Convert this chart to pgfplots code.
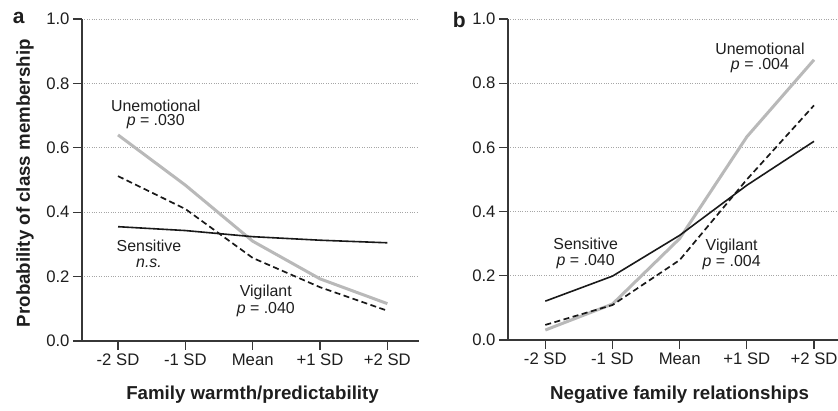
\documentclass[border=0pt]{standalone}
\usepackage{fontspec}
\setmainfont{Liberation Sans}
\usepackage{pgfplots}
\pgfplotsset{compat=1.18}
\definecolor{unemocol}{RGB}{185,185,185}
\definecolor{axc}{RGB}{55,55,55}
\definecolor{txt}{RGB}{30,30,30}
\tikzset{
  ann/.style={font=\fontsize{15.9bp}{18bp}\selectfont, text=txt, anchor=center},
  plab/.style={font=\bfseries\fontsize{21bp}{23bp}\selectfont, text=txt, anchor=center},
}
\pgfplotsset{
  panel/.style={
    scale only axis,
    ymin=0, ymax=1,
    axis x line*=bottom, axis y line*=left,
    axis line style={-, color=axc, line width=1.4bp},
    tick style={color=axc, line width=1.3bp},
    tick align=outside,
    major tick length=9bp,
    xtick={0,1,2,3,4},
    xticklabels={-2 SD,-1 SD,Mean,+1 SD,+2 SD},
    ytick={0,0.2,0.4,0.6,0.8,1.0},
    yticklabels={0.0,0.2,0.4,0.6,0.8,1.0},
    ymajorgrids,
    grid style={dotted, color=gray!70, line width=0.9bp},
    ticklabel style={font=\fontsize{16.7bp}{19bp}\selectfont, text=txt},
    clip=false,
  },
  unemoline/.style={color=unemocol, line width=3bp},
  sensline/.style={color=black!90, line width=1.6bp},
  vigline/.style={color=black!90, line width=1.7bp, dash pattern=on 6bp off 3.5bp},
}
\begin{document}
\begin{tikzpicture}
\useasboundingbox (0,0) rectangle (838bp,411bp);
% Panel a
\begin{axis}[panel, at={(82bp,70bp)}, anchor=south west,
  width=337bp, height=322bp, xmin=-0.535, xmax=4.47,
  xlabel={\bfseries Family warmth/predictability},
  xlabel style={at={(axis description cs:0.506,-0.168)}, anchor=center, font=\fontsize{18.7bp}{21bp}\selectfont, text=txt},
  ylabel={\bfseries Probability of class membership},
  ylabel style={at={(axis description cs:-0.169,0.49)}, anchor=center, rotate=0, font=\fontsize{18.7bp}{21bp}\selectfont, text=txt},
]
\addplot[unemoline] coordinates {(0,0.640) (1,0.484) (2,0.310) (3,0.193) (4,0.116)};
\addplot[vigline] coordinates {(0,0.512) (1,0.410) (2,0.258) (3,0.167) (4,0.094)};
\addplot[sensline] coordinates {(0,0.355) (1,0.343) (2,0.324) (3,0.313) (4,0.305)};
\node[ann] at (axis cs:0.56,0.731) {Unemotional};
\node[ann] at (axis cs:0.56,0.680) {\itshape p\upshape{} = .030};
\node[ann] at (axis cs:0.46,0.295) {Sensitive};
\node[ann] at (axis cs:0.46,0.242) {\itshape n.s.};
\node[ann] at (axis cs:2.195,0.150) {Vigilant};
\node[ann] at (axis cs:2.195,0.096) {\itshape p\upshape{} = .040};
\node[plab] at (axis description cs:-0.188,1.003) {a};
\end{axis}
% Panel b
\begin{axis}[panel, at={(508bp,71bp)}, anchor=south west,
  width=330bp, height=321bp, xmin=-0.555, xmax=4.357,
  xlabel={\bfseries Negative family relationships},
  xlabel style={at={(axis description cs:0.52,-0.171)}, anchor=center, font=\fontsize{18.7bp}{21bp}\selectfont, text=txt},
]
\addplot[unemoline] coordinates {(0,0.031) (1,0.112) (2,0.316) (3,0.633) (4,0.873)};
\addplot[vigline] coordinates {(0,0.047) (1,0.109) (2,0.249) (3,0.500) (4,0.731)};
\addplot[sensline] coordinates {(0,0.121) (1,0.199) (2,0.326) (3,0.482) (4,0.619)};
\node[ann] at (axis cs:3.195,0.906) {Unemotional};
\node[ann] at (axis cs:3.195,0.854) {\itshape p\upshape{} = .004};
\node[ann] at (axis cs:0.601,0.299) {Sensitive};
\node[ann] at (axis cs:0.601,0.244) {\itshape p\upshape{} = .040};
\node[ann] at (axis cs:2.774,0.293) {Vigilant};
\node[ann] at (axis cs:2.774,0.240) {\itshape p\upshape{} = .004};
\node[plab] at (axis description cs:-0.148,0.997) {b};
\end{axis}
\end{tikzpicture}
\end{document}
